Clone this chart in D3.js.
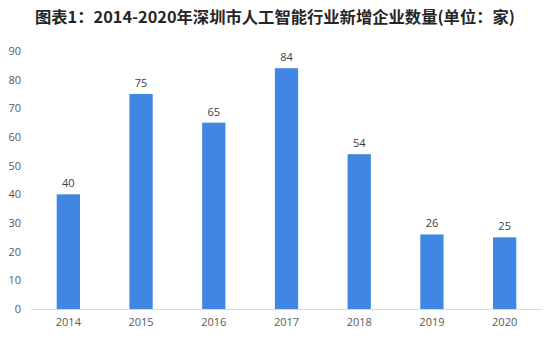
<!DOCTYPE html>
<html>
<head>
<meta charset="utf-8">
<script src="https://cdn.jsdelivr.net/npm/d3@7"></script>
<style>
  html, body { margin: 0; padding: 0; background: #fff; }
  svg { display: block; }
</style>
</head>
<body>
<svg id="chart" width="551" height="347"></svg>
<script>
// 2014-2020 newly registered AI companies in Shenzhen
const years = ["2014", "2015", "2016", "2017", "2018", "2019", "2020"];
const counts = [40, 75, 65, 84, 54, 26, 25];
const yTicks = [0, 10, 20, 30, 40, 50, 60, 70, 80, 90];
const titleText = "图表1：2014-2020年深圳市人工智能行业新增企业数量(单位：家)";

const svg = d3.select("#chart");
const W = 551, H = 347;
const margin = { top: 51, right: 10, bottom: 38, left: 32 };

const x = d3.scaleBand()
  .domain(years)
  .range([margin.left, W - margin.right])
  .paddingInner(0.68)
  .paddingOuter(0.34);

const y = d3.scaleLinear()
  .domain([0, 90])
  .range([H - margin.bottom, margin.top]);

// Title
svg.append("text")
  .attr("x", 275)
  .attr("y", 23)
  .attr("text-anchor", "middle")
  .attr("font-family", "'Noto Sans CJK SC', sans-serif")
  .attr("font-weight", "bold")
  .attr("font-size", 16)
  .attr("fill", "#262626")
  .attr("textLength", 480)
  .attr("lengthAdjust", "spacingAndGlyphs")
  .text(titleText);

// Y axis labels (no line, no ticks)
const yAxis = svg.append("g")
  .attr("transform", `translate(${margin.left - 11},0)`)
  .call(d3.axisLeft(y).tickValues(yTicks).tickSize(0).tickPadding(0));
yAxis.select(".domain").remove();
yAxis.selectAll("text")
  .attr("font-family", "'Open Sans', 'Liberation Sans', sans-serif")
  .attr("font-size", 11)
  .attr("fill", "#595959");

// X axis with baseline
const xAxis = svg.append("g")
  .attr("transform", `translate(0,${y(0)})`)
  .call(d3.axisBottom(x).tickSize(0).tickPadding(9));
xAxis.select(".domain")
  .attr("stroke", "#d9d9d9")
  .attr("d", `M${margin.left - 1},0.5H${W - 9}`);
xAxis.selectAll("text")
  .attr("font-family", "'Open Sans', 'Liberation Sans', sans-serif")
  .attr("font-size", 11)
  .attr("fill", "#595959");

// Bars
svg.append("g")
  .selectAll("rect")
  .data(years)
  .join("rect")
  .attr("x", (d) => x(d))
  .attr("width", x.bandwidth())
  .attr("y", (d, i) => y(counts[i]))
  .attr("height", (d, i) => y(0) - y(counts[i]))
  .attr("fill", "#4286e3");

// Value labels
svg.append("g")
  .selectAll("text")
  .data(years)
  .join("text")
  .attr("x", (d) => x(d) + x.bandwidth() / 2)
  .attr("y", (d, i) => y(counts[i]) - 7)
  .attr("text-anchor", "middle")
  .attr("font-family", "'Open Sans', 'Liberation Sans', sans-serif")
  .attr("font-size", 11)
  .attr("fill", "#404040")
  .text((d, i) => counts[i]);
</script>
</body>
</html>
